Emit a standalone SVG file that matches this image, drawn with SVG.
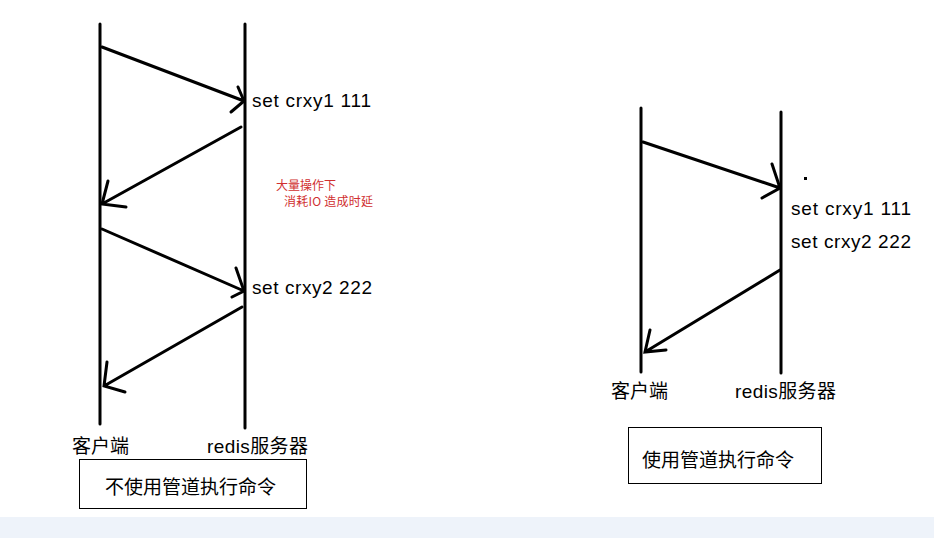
<svg xmlns="http://www.w3.org/2000/svg" width="934" height="538" viewBox="0 0 934 538">
<style>
.l{stroke:#000;stroke-width:3;fill:none;stroke-linecap:round}
.t{font-family:"Liberation Sans","Noto Sans CJK SC",sans-serif;font-size:19px;fill:#000}
.r{font-family:"Noto Sans CJK SC",sans-serif;font-size:12px;fill:#d03030}
.b{fill:#fff;stroke:#000;stroke-width:1}
</style>
<rect width="934" height="538" fill="#fff"/>
<rect x="0" y="517" width="934" height="21" fill="#eef3fa"/>
<g id="left-client"><line class="l" x1="100" y1="24" x2="100" y2="424"/><text class="t" x="72" y="453">客户端</text></g>
<g id="left-server"><line class="l" x1="245" y1="24" x2="245" y2="428"/><text class="t" x="207" y="453" textLength="101">redis服务器</text></g>
<g id="left-title"><rect class="b" x="79.5" y="459.5" width="227" height="49"/><text class="t" x="105" y="494">不使用管道执行命令</text></g>
<g id="right-client"><line class="l" x1="641" y1="108" x2="641" y2="372"/><text class="t" x="611" y="398">客户端</text></g>
<g id="right-server"><line class="l" x1="781" y1="112" x2="781" y2="373"/><text class="t" x="735" y="398" textLength="101">redis服务器</text></g>
<g id="right-title"><rect class="b" x="628.5" y="427.5" width="193" height="56"/><text class="t" x="642" y="467">使用管道执行命令</text></g>
<g id="labels">
<text class="t" x="252" y="107" textLength="119">set crxy1 111</text>
<text class="t" x="252" y="294" textLength="120">set crxy2 222</text>
<text class="r" x="276" y="190">大量操作下</text>
<text class="r" x="284" y="206" textLength="89">消耗IO 造成时延</text>
<text class="t" x="791" y="215" textLength="120">set crxy1 111</text>
<text class="t" x="791" y="248" textLength="120">set crxy2 222</text>
<rect x="804" y="177" width="3" height="3" fill="#000"/>
</g>
<g id="connectors">
<path class="l" d="M102 47L244 101M238 87L244 101L231 112"/>
<path class="l" d="M241 127L102 204M108 181L102 204L126 207"/>
<path class="l" d="M102 229L244 291M236 268L244 291L232 297"/>
<path class="l" d="M242 307L104 386M107 362L104 386L125 392"/>
<path class="l" d="M643 142L780 188M772 164L780 188L762 198"/>
<path class="l" d="M780 270L645 352M650 330L645 352L666 350"/>
</g>
</svg>
